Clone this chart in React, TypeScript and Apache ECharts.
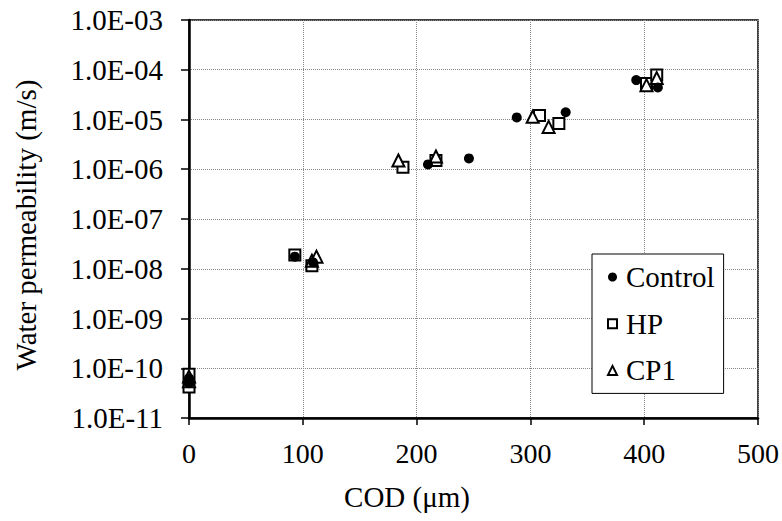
import React, { useEffect, useRef } from "react";
import * as echarts from "echarts";

const controlX = [0, 0, 93, 109, 210, 246, 288, 331, 393, 412];
const controlY = [6.3e-11, 5.0e-11, 1.75e-8, 1.35e-8, 1.25e-6, 1.65e-6, 1.1e-5, 1.4e-5, 6.2e-5, 4.4e-5];
const hpX = [0, 0, 93, 108, 188, 217, 308, 325, 402, 411];
const hpY = [7.6e-11, 4.2e-11, 1.9e-8, 1.15e-8, 1.1e-6, 1.5e-6, 1.2e-5, 8.3e-6, 5.3e-5, 7.8e-5];
const cp1X = [0, 0, 108, 112, 184, 217, 302, 316, 402, 411];
const cp1Y = [6.8e-11, 5.5e-11, 1.45e-8, 1.75e-8, 1.5e-6, 1.8e-6, 1.13e-5, 7.1e-6, 4.9e-5, 6.8e-5];

const seriesNames = ["Control", "HP", "CP1"];
const xTitle = "COD (μm)";
const yTitle = "Water permeability (m/s)";

const FONT = "Liberation Serif";

function fmtExp(v: number): string {
  const e = Math.round(Math.log10(v));
  const m = v / Math.pow(10, e);
  const sign = e < 0 ? "-" : "+";
  const abs = Math.abs(e);
  return m.toFixed(1) + "E" + sign + (abs < 10 ? "0" + abs : String(abs));
}

const zip = (xs: number[], ys: number[]) => xs.map((x, i) => [x, ys[i]]);

export default function App() {
  const ref = useRef<HTMLDivElement>(null);
  useEffect(() => {
    if (!ref.current) return;
    const chart = echarts.init(ref.current, undefined, { renderer: "svg" });
    chart.setOption({
      animation: false,
      backgroundColor: "#fff",
      textStyle: { fontFamily: FONT },
      grid: {
        left: 189,
        top: 20,
        right: 22,
        bottom: 103,
        show: true,
        borderColor: "#000",
        borderWidth: 1.5,
      },
      xAxis: {
        type: "value",
        min: 0,
        max: 500,
        interval: 100,
        axisLine: { show: true, onZero: false, lineStyle: { color: "#000", width: 2.5 } },
        axisTick: { show: true, inside: false, length: 7, lineStyle: { color: "#000", width: 1.5 } },
        axisLabel: { color: "#000", fontSize: 28, fontFamily: FONT, margin: 21 },
        splitLine: { show: true, lineStyle: { color: "#888", type: "dotted", width: 1 } },
      },
      yAxis: {
        type: "log",
        logBase: 10,
        min: 1e-11,
        max: 1e-3,
        splitNumber: 8,
        axisLine: { show: true, onZero: false, lineStyle: { color: "#000", width: 2.5 } },
        axisTick: { show: true, inside: false, length: 8, lineStyle: { color: "#000", width: 1.5 } },
        axisLabel: {
          color: "#000",
          fontSize: 29,
          fontFamily: FONT,
          margin: 26,
          formatter: (v: number) => fmtExp(v),
        },
        splitLine: { show: true, lineStyle: { color: "#888", type: "dotted", width: 1 } },
      },
      legend: {
        orient: "vertical",
        left: 592,
        top: 254,
        data: seriesNames,
        backgroundColor: "#fff",
        borderColor: "#000",
        borderWidth: 1,
        borderRadius: 0,
        padding: [8.5, 9, 8.5, 15],
        itemGap: 17.7,
        itemWidth: 9,
        itemHeight: 9,
        textStyle: { color: "#000", fontSize: 29, fontFamily: FONT, padding: [0, 0, 0, 4] },
      },
      graphic: [
        {
          type: "text",
          x: 26,
          y: 225,
          rotation: Math.PI / 2,
          style: {
            text: yTitle,
            fontSize: 29,
            fontFamily: FONT,
            fill: "#000",
            align: "center",
            verticalAlign: "middle",
          },
        },
        {
          type: "text",
          x: 407,
          y: 497,
          style: {
            text: xTitle,
            fontSize: 29,
            fontFamily: FONT,
            fill: "#000",
            align: "center",
            verticalAlign: "middle",
          },
        },
      ],
      series: [
        {
          name: seriesNames[0],
          type: "scatter",
          symbol: "circle",
          symbolSize: 10,
          z: 4,
          itemStyle: { color: "#000", opacity: 1 },
          data: zip(controlX, controlY),
        },
        {
          name: seriesNames[1],
          type: "scatter",
          symbol: "rect",
          symbolSize: 11,
          z: 2,
          itemStyle: { color: "#fff", borderColor: "#000", borderWidth: 2, opacity: 1 },
          data: zip(hpX, hpY),
        },
        {
          name: seriesNames[2],
          type: "scatter",
          symbol: "triangle",
          symbolSize: 12,
          z: 3,
          itemStyle: { color: "#fff", borderColor: "#000", borderWidth: 2, opacity: 1 },
          data: zip(cp1X, cp1Y),
        },
      ],
    });
    return () => chart.dispose();
  }, []);
  return (
    <div
      ref={ref}
      style={{ position: "fixed", left: 0, top: 0, width: 782, height: 521 }}
    />
  );
}
